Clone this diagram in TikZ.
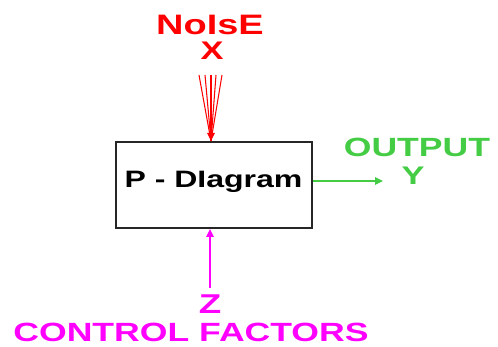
\documentclass[tikz,border=0pt]{standalone}
\usepackage{fontspec}
\usepackage{tikz}
\usepackage{xcolor}
\usetikzlibrary{arrows.meta,positioning}
\newfontfamily\pfont{Liberation Sans}[FakeStretch=1.35]
\definecolor{noisered}{HTML}{FF0000}
\definecolor{outgreen}{HTML}{44CC44}
\definecolor{ctrlmagenta}{HTML}{FF00FF}
\tikzset{
  pbox/.style = {
    rectangle,
    draw=black!85,
    line width=1.1pt,
    minimum width=3.92cm,
    minimum height=1.72cm,
    inner sep=0pt
  },
  plabel/.style = {
    anchor=base,
    inner sep=0pt,
    font=\pfont\bfseries
  },
  parrow/.style = {
    -{Triangle[length=1.6mm,width=1.5mm]},
    line width=0.6pt
  }
}

\begin{document}
\begin{tikzpicture}[x=0.02cm,y=-0.02cm]
    \useasboundingbox (0,0) rectangle (498,347);
    \node[pbox] (pdiag) at (214,185) {};
    \node[plabel, font=\pfont\bfseries\fontsize{13.5}{15}\selectfont] (ptitle) at (213.5,188) {P - DIagram};
    % noise input
    \node[plabel, text=noisered, font=\pfont\bfseries\fontsize{16}{18}\selectfont] (noise) at (210,35) {NoIsE};
    \node[plabel, text=noisered, font=\pfont\bfseries\fontsize{14.5}{16}\selectfont] (noisex) at (212,60) {X};
    \coordinate (ntip) at (211,141);
    \foreach \i/\nx in {1/199,2/205,4/216,5/222} {
      \coordinate (n\i) at (\nx,75);
      \draw[noisered, line width=0.6pt] (n\i) -- (ntip);
    }
    \coordinate (n3) at (211,75);
    \draw[parrow, noisered] (n3) -- (ntip);
    % output
    \node[plabel, text=outgreen, font=\pfont\bfseries\fontsize{15}{17}\selectfont] (output) at (417,157) {OUTPUT};
    \node[plabel, text=outgreen, font=\pfont\bfseries\fontsize{14.5}{16}\selectfont] (outy) at (413,185) {Y};
    \coordinate (otip) at (383,181);
    \draw[parrow, outgreen] (pdiag.east |- otip) -- (otip);
    % control factors
    \node[plabel, text=ctrlmagenta, font=\pfont\bfseries\fontsize{15.5}{17}\selectfont] (ctrlz) at (210,314) {Z};
    \node[plabel, text=ctrlmagenta, font=\pfont\bfseries\fontsize{15}{17}\selectfont] (control) at (191,342) {CONTROL FACTORS};
    \coordinate (cstart) at (210,288);
    \draw[parrow, ctrlmagenta] (cstart) -- (cstart |- pdiag.south);
  \end{tikzpicture}
\end{document}
